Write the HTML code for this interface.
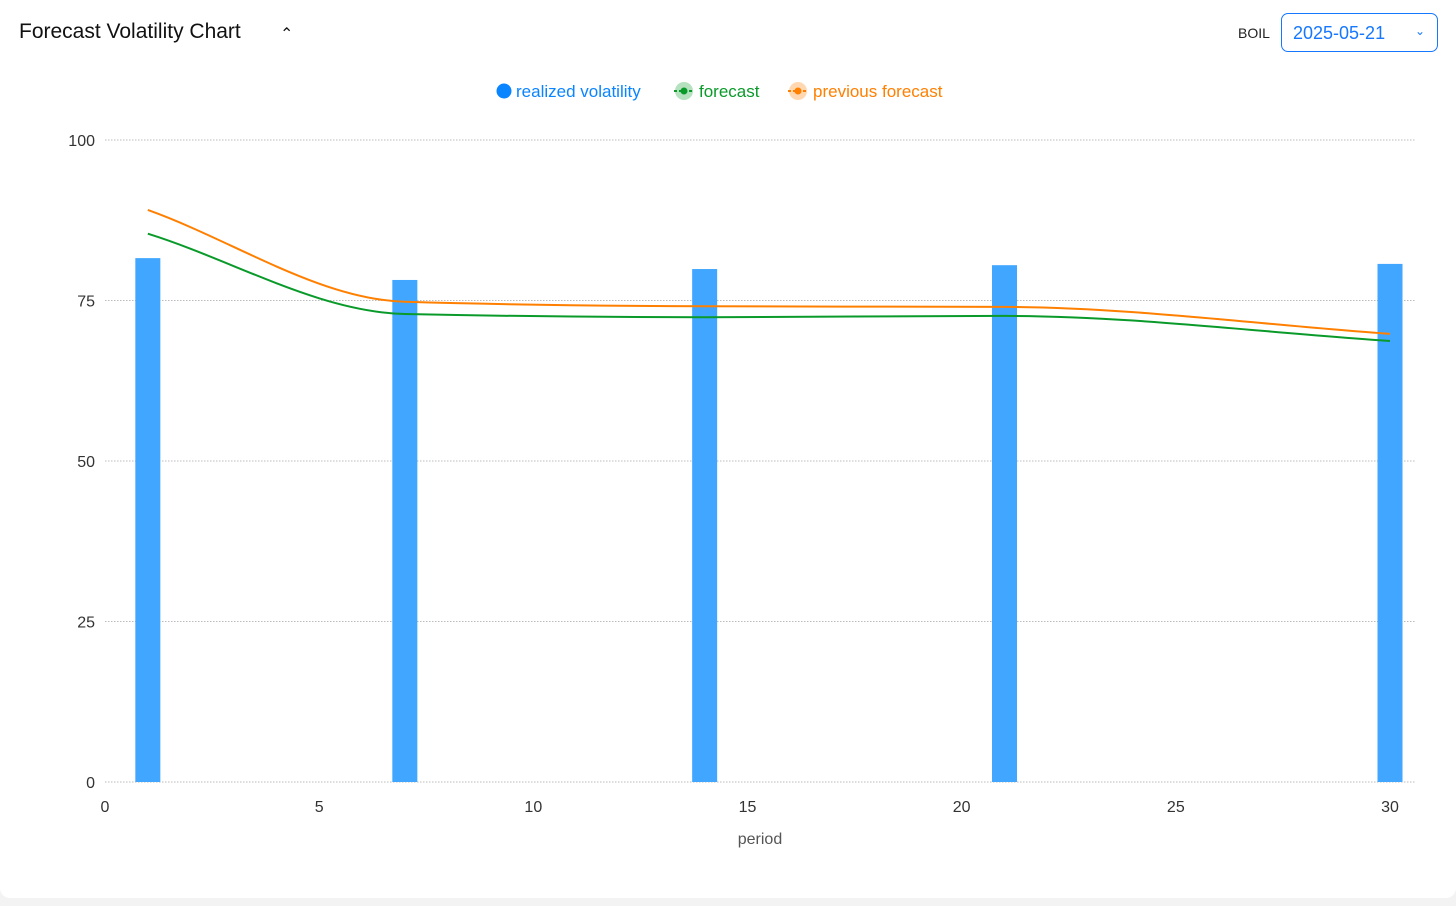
<!DOCTYPE html>
<html><head><meta charset="utf-8"><style>
body{margin:0;width:1456px;height:906px;background:#f3f3f3;font-family:"Liberation Sans",sans-serif;overflow:hidden}
#card{position:absolute;left:0;top:0;width:1456px;height:898px;background:#fff;border-radius:0 0 10px 10px}
#title{position:absolute;left:19px;top:20px;font-size:21px;color:#111}
#chev{position:absolute;left:280px;top:24px;font-size:16px;color:#111}
#boil{position:absolute;left:1238px;top:25px;font-size:14px;color:#222}
#date{position:absolute;left:1281px;top:13px;width:157px;height:39px;border:1px solid #1677ff;border-radius:7px;box-sizing:border-box;color:#1677ff;font-size:18px;padding:9px 0 0 11px}
#date span{position:absolute;right:12px;top:10px;font-size:12px}
</style></head><body>
<div id="card">
<div id="title">Forecast Volatility Chart</div>
<div id="chev">&#8963;</div>
<div id="boil">BOIL</div>
<div id="date">2025-05-21<span>&#8964;</span></div>
<svg id="chart" width="1456" height="906" style="position:absolute;left:0;top:0"></svg>
</div>
<script>
const periods=[1,7,14,21,30];
const realized=[81.6,78.2,79.9,80.5,80.7];
const forecast=[85.4,72.9,72.4,72.6,68.7];
const prevForecast=[89.1,74.8,74.1,74.0,69.8];
const yTicks=[0,25,50,75,100];
const xTicks=[0,5,10,15,20,25,30];
const NS="http://www.w3.org/2000/svg";
const svg=document.getElementById('chart');
const X=v=>105+v*(1390-105)/30, Y=v=>782-v*(782-140)/100;
function mk(t,a,txt){const e=document.createElementNS(NS,t);for(const k in a)e.setAttribute(k,a[k]);if(txt!=null)e.textContent=txt;svg.appendChild(e);return e;}
yTicks.forEach(t=>{
 const l=mk('line',{x1:105,x2:1415,y1:Y(t),y2:Y(t),stroke:'#bbb','stroke-dasharray':'1.5 1.5'});
 
 
 const tx=mk('text',{x:95,y:Y(t)+6,'text-anchor':'end','font-size':16,fill:'#333'},t);
 
 
});
xTicks.forEach(t=>{
 const tx=mk('text',{x:X(t),y:812,'text-anchor':'middle','font-size':16,fill:'#333'},t);
 
 
});
const xt=mk('text',{x:760,y:844,'text-anchor':'middle','font-size':16,fill:'#555'},'period');


periods.forEach((p,i)=>{
 const b=mk('rect',{x:X(p)-12.5,y:Y(realized[i]),width:25,height:Y(0)-Y(realized[i]),fill:'#40a6ff'});
 
 
});
function monotone(xs,ys){
 const n=xs.length,d=[],m=[];
 for(let i=0;i<n-1;i++)d.push((ys[i+1]-ys[i])/(xs[i+1]-xs[i]));
 m[0]=d[0];m[n-1]=d[n-2];
 for(let i=1;i<n-1;i++){if(d[i-1]*d[i]<=0)m[i]=0;else{const h0=xs[i]-xs[i-1],h1=xs[i+1]-xs[i];m[i]=3*(h0+h1)/((2*h1+h0)/d[i-1]+(h1+2*h0)/d[i]);}}
 let s='M'+xs[0]+','+ys[0];
 for(let i=0;i<n-1;i++){const h=(xs[i+1]-xs[i])/3;s+=' C'+(xs[i]+h)+','+(ys[i]+m[i]*h)+' '+(xs[i+1]-h)+','+(ys[i+1]-m[i+1]*h)+' '+xs[i+1]+','+ys[i+1];}
 return s;
}
[[prevForecast,'#ff7f00','previous-forecast-line'],[forecast,'#0a9a2a','forecast-line']].forEach(([vals,c,n])=>{
 const p=mk('path',{d:monotone(periods.map(X),vals.map(Y)),fill:'none',stroke:c,'stroke-width':2});
 
 
});
// legend
const lg=[[496,'#0a84ff','realized volatility','bar'],[674,'#0a9a2a','forecast','line'],[788,'#ff7f00','previous forecast','line']];
lg.forEach(([x,c,t,k])=>{
 const g=document.createElementNS(NS,'g');svg.appendChild(g);
 
 
 const add=(tag,a,txt)=>{const e=document.createElementNS(NS,tag);for(const q in a)e.setAttribute(q,a[q]);if(txt)e.textContent=txt;g.appendChild(e);};
 let tx;
 if(k==='bar'){add('circle',{cx:x+8,cy:91,r:7.5,fill:c});tx=x+20;}
 else{add('circle',{cx:x+10,cy:91,r:9,fill:c,opacity:0.3});add('line',{x1:x,x2:x+20,y1:91,y2:91,stroke:c,'stroke-width':2,'stroke-dasharray':'3 2'});add('circle',{cx:x+10,cy:91,r:3.5,fill:c});tx=x+25;}
 add('text',{x:tx,y:97,'font-size':17,fill:c},t);
});
</script>
</body></html>
